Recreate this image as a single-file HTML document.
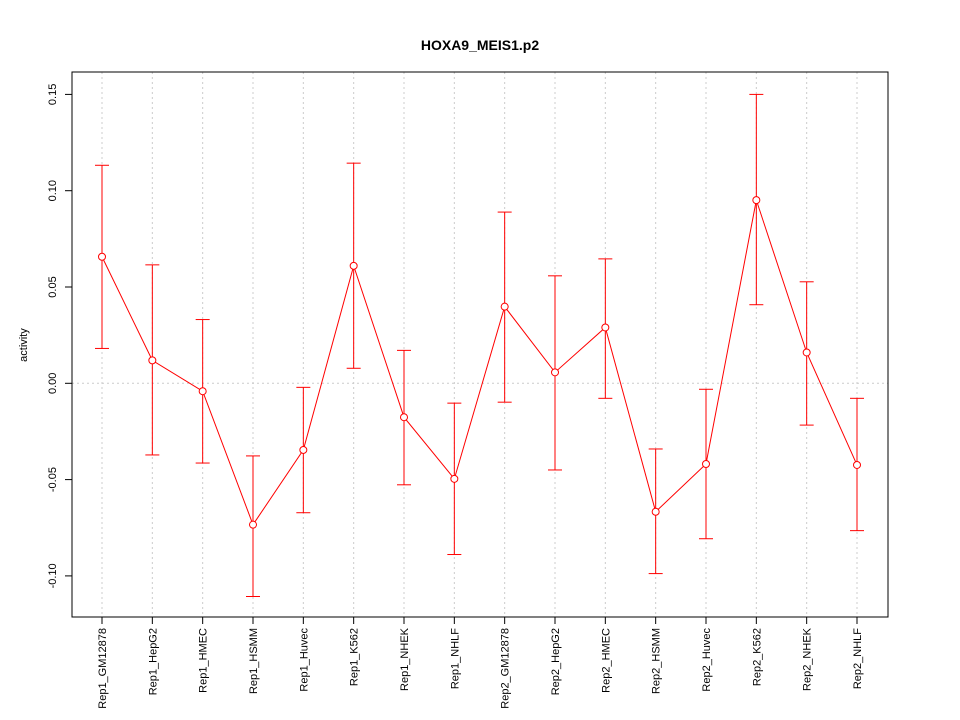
<!DOCTYPE html>
<html><head><meta charset="utf-8"><style>
body{margin:0;background:#fff}
svg{display:block;font-family:"Liberation Sans",sans-serif}
</style></head><body>
<svg id="chart" width="960" height="720" xmlns="http://www.w3.org/2000/svg">
<rect width="960" height="720" fill="#fff"/>
<text x="480" y="50" text-anchor="middle" font-size="14" font-weight="bold">HOXA9_MEIS1.p2</text>
<text transform="translate(27,345) rotate(-90)" text-anchor="middle" font-size="11">activity</text>
<g id="grid"></g><g id="axes"></g><g id="marks"></g>
<rect x="72" y="72" width="816" height="545" fill="none" stroke="#000"/>
</svg>
<script>
const categories=["Rep1_GM12878","Rep1_HepG2","Rep1_HMEC","Rep1_HSMM","Rep1_Huvec","Rep1_K562","Rep1_NHEK","Rep1_NHLF","Rep2_GM12878","Rep2_HepG2","Rep2_HMEC","Rep2_HSMM","Rep2_Huvec","Rep2_K562","Rep2_NHEK","Rep2_NHLF"];
const values=[0.0657,0.0119,-0.0041,-0.0734,-0.0346,0.061,-0.0176,-0.0496,0.0398,0.0057,0.029,-0.0667,-0.0419,0.0951,0.016,-0.0424];
const upper=[0.1132,0.0615,0.0331,-0.0377,-0.0021,0.1143,0.0171,-0.0103,0.0889,0.0558,0.0646,-0.0341,-0.0031,0.15,0.0527,-0.0078];
const lower=[0.0181,-0.0372,-0.0414,-0.1107,-0.0672,0.0078,-0.0527,-0.0889,-0.0098,-0.045,-0.0078,-0.0988,-0.0807,0.0408,-0.0217,-0.0765];
const yTicks=[-0.10,-0.05,0.00,0.05,0.10,0.15];
const yTickLabels=["-0.10","-0.05","0.00","0.05","0.10","0.15"];
const NS="http://www.w3.org/2000/svg";
const x=i=>102+i*(857-102)/15;
const y=v=>383.3-v*1926;
function mk(p,t,a){const e=document.createElementNS(NS,t);for(const k in a)e.setAttribute(k,a[k]);p.appendChild(e);return e;}
const grid=document.getElementById('grid'),axes=document.getElementById('axes'),marks=document.getElementById('marks');
categories.forEach((c,i)=>{
 const g=mk(grid,'line',{x1:x(i),x2:x(i),y1:72,y2:617,stroke:'#ccc','stroke-dasharray':'2,3'});
 
 
 const t=mk(axes,'line',{x1:x(i),x2:x(i),y1:617,y2:624,stroke:'#000'});
 
 
 const l=mk(axes,'text',{transform:`translate(${x(i)+4},628) rotate(-90)`,'text-anchor':'end','font-size':'11'});
 l.textContent=c;
 
 
});
const zg=mk(grid,'line',{x1:72,x2:888,y1:y(0),y2:y(0),stroke:'#ccc','stroke-dasharray':'2,3'});


yTicks.forEach((v,i)=>{
 const t=mk(axes,'line',{x1:65,x2:72,y1:y(v),y2:y(v),stroke:'#000'});
 
 
 const l=mk(axes,'text',{transform:`translate(56,${y(v)}) rotate(-90)`,'text-anchor':'middle','font-size':'11'});
 l.textContent=yTickLabels[i];
 
 
});
const ln=mk(marks,'polyline',{points:values.map((v,i)=>x(i)+','+y(v)).join(' '),fill:'none',stroke:'#f00'});


values.forEach((v,i)=>{
 const g=mk(marks,'g',{stroke:'#f00',fill:'none'});
 
 
 mk(g,'line',{x1:x(i),x2:x(i),y1:y(upper[i]),y2:y(lower[i])});
 mk(g,'line',{x1:x(i)-7,x2:x(i)+7,y1:y(upper[i]),y2:y(upper[i])});
 mk(g,'line',{x1:x(i)-7,x2:x(i)+7,y1:y(lower[i]),y2:y(lower[i])});
 const p=mk(marks,'circle',{cx:x(i),cy:y(v),r:3.5,fill:'#fff',stroke:'#f00'});
 
 
});
</script>
</body></html>
